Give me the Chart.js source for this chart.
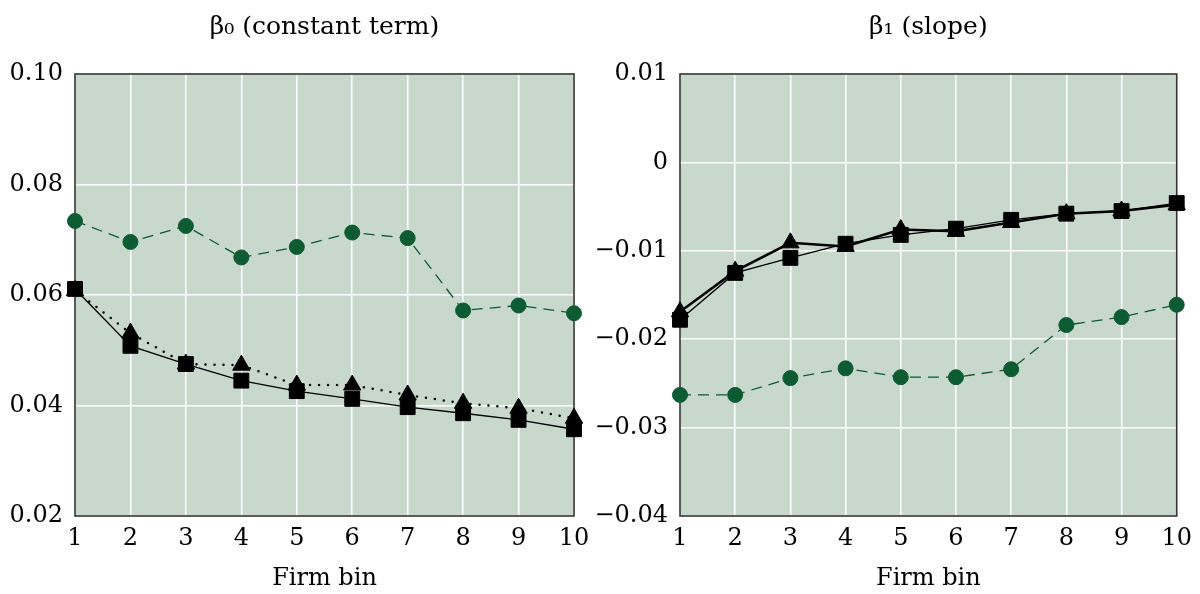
<!DOCTYPE html>
<html>
<head>
<meta charset="utf-8">
<title>Firm bin coefficients</title>
<script src="https://cdn.jsdelivr.net/npm/chart.js@4.4.1/dist/chart.umd.min.js"></script>
<style>
  html, body { margin: 0; padding: 0; background: #fff; }
  body { width: 1200px; height: 594px; overflow: hidden; position: relative; }
  .panel { position: absolute; top: 0; height: 594px; }
  #wrap-b0 { left: 0; width: 600px; }
  #wrap-b1 { left: 580px; width: 620px; }
</style>
</head>
<body>
<div class="panel" id="wrap-b0"><canvas id="chart-b0"></canvas></div>
<div class="panel" id="wrap-b1"><canvas id="chart-b1"></canvas></div>
<script>
// firm bins (x)
const bins = [1, 2, 3, 4, 5, 6, 7, 8, 9, 10];

// beta0 (constant term)
const b0Green = [0.0734, 0.0696, 0.0725, 0.0668, 0.0687, 0.0713, 0.0703, 0.0572, 0.0581, 0.0567];
const b0Square = [0.0611, 0.0508, 0.0475, 0.0445, 0.0426, 0.0412, 0.0397, 0.0386, 0.0374, 0.0357];
const b0Triangle = [0.0608, 0.0531, 0.0475, 0.0473, 0.0437, 0.0437, 0.0419, 0.0404, 0.0395, 0.0377];

// beta1 (slope)
const b1Green = [-0.0263, -0.0263, -0.0244, -0.0233, -0.0243, -0.0243, -0.0234, -0.0184, -0.0175, -0.0161];
const b1Square = [-0.0178, -0.0125, -0.0108, -0.0092, -0.0082, -0.0075, -0.0065, -0.0058, -0.0055, -0.0046];
const b1Triangle = [-0.0169, -0.0123, -0.0091, -0.0095, -0.0076, -0.0078, -0.0068, -0.0058, -0.0055, -0.0048];

const b0Title = "β₀ (constant term)";
const b1Title = "β₁ (slope)";
const xTitle = "Firm bin";

const green = "#0d5b33";
const plotBg = "#c9d8cd";
const frame = "#333333";
const serif = "'DejaVu Serif', 'Liberation Serif', serif";

const pts = (ys) => ys.map((y, i) => ({ x: bins[i], y: y }));

const panelBox = {
  id: "panelBox",
  beforeDraw(chart) {
    const a = chart.chartArea;
    const ctx = chart.ctx;
    ctx.save();
    ctx.fillStyle = plotBg;
    ctx.fillRect(a.left, a.top, a.right - a.left, a.bottom - a.top);
    ctx.restore();
  },
  beforeDatasetsDraw(chart) {
    const a = chart.chartArea;
    const ctx = chart.ctx;
    ctx.save();
    ctx.strokeStyle = frame;
    ctx.lineWidth = 1.6;
    ctx.strokeRect(a.left, a.top, a.right - a.left, a.bottom - a.top);
    ctx.restore();
  },
};

function fmt0(v) {
  return v.toFixed(2);
}

function fmt1(v) {
  if (Math.abs(v) < 1e-9) return "0";
  return (v < 0 ? "\u2212" : "") + Math.abs(v).toFixed(2);
}

function makeChart(id, title, series, yMin, yMax, yStep, yFmt, yWidth, padRight) {
  const ctx = document.getElementById(id).getContext("2d");
  return new Chart(ctx, {
    type: "line",
    data: {
      datasets: [
        {
          data: pts(series.square),
          borderColor: "#000",
          borderWidth: 1.3,
          pointStyle: "rect",
          pointRadius: 10.5,
          pointBackgroundColor: "#000",
          pointBorderColor: "#000",
          pointBorderWidth: 1,
          clip: false,
        },
        {
          data: pts(series.triangle),
          borderColor: "#000",
          borderWidth: series.triWidth,
          borderDash: series.triDash,
          borderCapStyle: "round",
          pointStyle: "triangle",
          pointRadius: 10,
          pointBackgroundColor: "#000",
          pointBorderColor: "#000",
          pointBorderWidth: 1,
          clip: false,
        },
        {
          data: pts(series.green),
          borderColor: green,
          borderWidth: 1.3,
          borderDash: [11, 7],
          pointStyle: "circle",
          pointRadius: 7.5,
          pointBackgroundColor: green,
          pointBorderColor: green,
          pointBorderWidth: 1,
          clip: false,
        },
      ],
    },
    options: {
      responsive: true,
      maintainAspectRatio: false,
      animation: false,
      events: [],
      layout: { padding: { left: 0, right: padRight, top: 0, bottom: 0 } },
      plugins: { legend: { display: false }, tooltip: { enabled: false }, title: { display: false } },
      elements: { line: { tension: 0 } },
      scales: {
        x: {
          type: "linear",
          position: "bottom",
          min: 1,
          max: 10,
          afterFit: (s) => { s.height = 78; },
          border: { display: false },
          grid: { color: "#ffffff", lineWidth: 1.5, drawTicks: false },
          ticks: {
            stepSize: 1,
            padding: 8,
            color: "#000",
            font: { family: serif, size: 24 },
            callback: (v) => String(v),
          },
          title: {
            display: true,
            text: xTitle,
            color: "#000",
            font: { family: serif, size: 24 },
            padding: { top: 0, bottom: 1 },
          },
        },
        top: {
          type: "linear",
          position: "top",
          min: 1,
          max: 10,
          afterFit: (s) => { s.height = 74; },
          border: { display: false },
          grid: { display: false },
          ticks: { display: false },
          title: {
            display: true,
            text: title,
            color: "#000",
            font: { family: serif, size: 25 },
            padding: { top: 12, bottom: 0 },
          },
        },
        y: {
          type: "linear",
          min: yMin,
          max: yMax,
          afterFit: (s) => { s.width = yWidth; },
          border: { display: false },
          grid: { color: "#ffffff", lineWidth: 1.5, drawTicks: false },
          ticks: {
            stepSize: yStep,
            padding: 12,
            color: "#000",
            font: { family: serif, size: 24 },
            callback: (v) => yFmt(v),
          },
        },
      },
    },
    plugins: [panelBox],
  });
}

makeChart(
  "chart-b0",
  b0Title,
  { green: b0Green, square: b0Square, triangle: b0Triangle, triWidth: 2.5, triDash: [0, 9] },
  0.02, 0.10, 0.02, fmt0, 75, 26
);

makeChart(
  "chart-b1",
  b1Title,
  { green: b1Green, square: b1Square, triangle: b1Triangle, triWidth: 2.5, triDash: [] },
  -0.04, 0.01, 0.01, fmt1, 100, 22
);
</script>
</body>
</html>
